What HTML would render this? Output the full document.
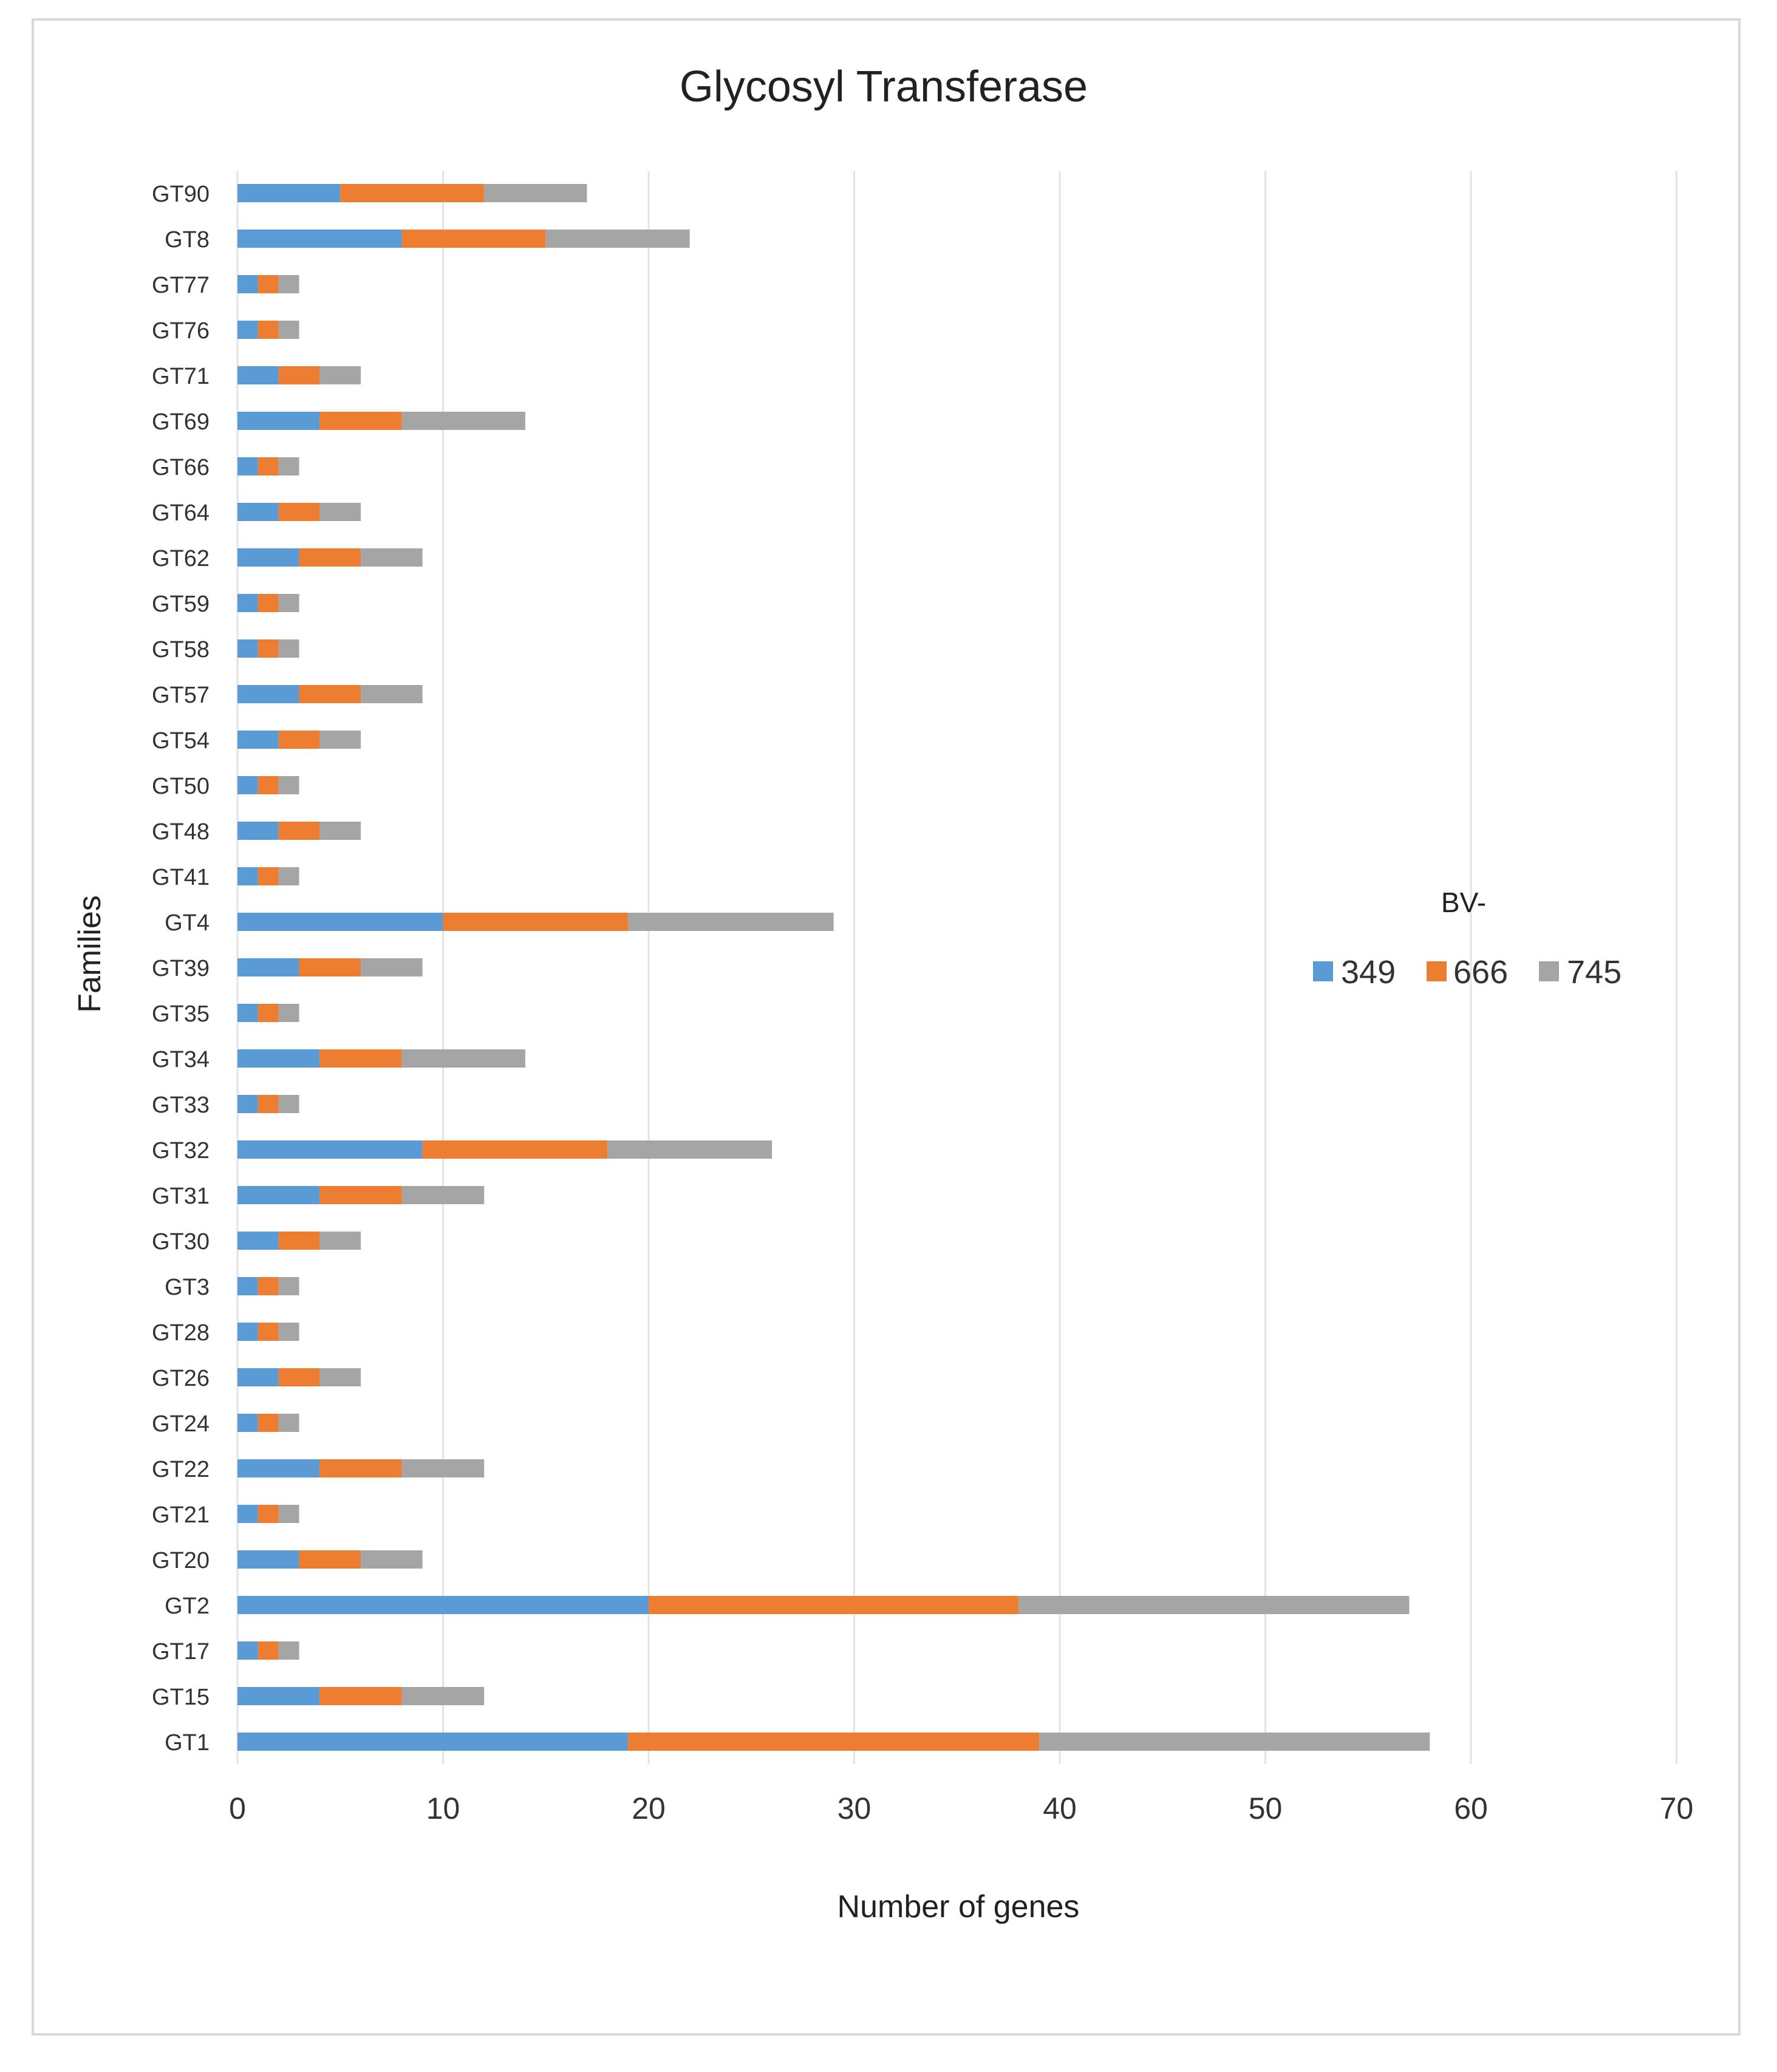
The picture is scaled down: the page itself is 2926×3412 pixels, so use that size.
<!DOCTYPE html>
<html><head><meta charset="utf-8"><style>
html,body{margin:0;padding:0;background:#fff;}
svg{display:block;font-family:"Liberation Sans",sans-serif;}
</style></head><body>
<svg id="chart" width="2926" height="3412" viewBox="0 0 2926 3412" xmlns="http://www.w3.org/2000/svg">
<rect x="54" y="32" width="2810" height="3318" fill="#fff" stroke="#d9d9d9" stroke-width="4"/>
<text x="1455" y="167" font-size="72" text-anchor="middle" fill="#222">Glycosyl Transferase</text>
<g id="grid"></g>
<g id="bars"></g>
<g id="ylabels"></g>
<g id="xlabels"></g>
<text x="1578" y="3157" font-size="52" text-anchor="middle" fill="#222">Number of genes</text>
<text x="0" y="0" font-size="52" text-anchor="middle" fill="#222" transform="translate(165,1571) rotate(-90)">Families</text>
<g>
<text x="2410" y="1502" font-size="46" text-anchor="middle" fill="#222">BV-</text>
<rect x="2162" y="1583" width="33" height="33" fill="#5b9bd5"/>
<text x="2208" y="1619" font-size="54" fill="#333">349</text>
<rect x="2349" y="1583" width="33" height="33" fill="#ed7d31"/>
<text x="2393" y="1619" font-size="54" fill="#333">666</text>
<rect x="2534" y="1583" width="33" height="33" fill="#a5a5a5"/>
<text x="2580" y="1619" font-size="54" fill="#333">745</text>
</g>
</svg>
<script>
const categories = ["GT90","GT8","GT77","GT76","GT71","GT69","GT66","GT64","GT62","GT59","GT58","GT57","GT54","GT50","GT48","GT41","GT4","GT39","GT35","GT34","GT33","GT32","GT31","GT30","GT3","GT28","GT26","GT24","GT22","GT21","GT20","GT2","GT17","GT15","GT1"];
const s349 = [5,8,1,1,2,4,1,2,3,1,1,3,2,1,2,1,10,3,1,4,1,9,4,2,1,1,2,1,4,1,3,20,1,4,19];
const s666 = [7,7,1,1,2,4,1,2,3,1,1,3,2,1,2,1,9,3,1,4,1,9,4,2,1,1,2,1,4,1,3,18,1,4,20];
const s745 = [5,7,1,1,2,6,1,2,3,1,1,3,2,1,2,1,10,3,1,6,1,8,4,2,1,1,2,1,4,1,3,19,1,4,19];
const xTicks = [0,10,20,30,40,50,60,70];
const seriesNames = ["349","666","745"];
const colors = ["#5b9bd5","#ed7d31","#a5a5a5"];

const NS = "http://www.w3.org/2000/svg";
const X0 = 391, UNIT = 33.85, Y0 = 318, STEP = 75.0, BH = 30;
function xs(v){ return X0 + v*UNIT; }
function ys(i){ return Y0 + i*STEP; }
function mk(tag, attrs, parent){ const e=document.createElementNS(NS,tag); for(const k in attrs) e.setAttribute(k,attrs[k]); parent.appendChild(e); return e; }

const grid = document.getElementById('grid');
const xl = document.getElementById('xlabels');
xTicks.forEach(t=>{
  const l = mk('line',{x1:xs(t),x2:xs(t),y1:282,y2:2905,stroke:'#e3e3e3','stroke-width':3},grid);
  
  
  const tx = mk('text',{x:xs(t),y:2995,'font-size':50,'text-anchor':'middle',fill:'#333'},xl);
  tx.textContent = t;
  
  
});

const bars = document.getElementById('bars');
const yl = document.getElementById('ylabels');
const series = [s349,s666,s745];
categories.forEach((c,i)=>{
  let acc = 0;
  series.forEach((s,k)=>{
    const r = mk('rect',{x:xs(acc),y:ys(i)-BH/2,width:xs(acc+s[i])-xs(acc),height:BH,fill:colors[k]},bars);
    
    
    acc += s[i];
  });
  const t = mk('text',{x:345,y:ys(i)+14,'font-size':38,'text-anchor':'end',fill:'#333'},yl);
  t.textContent = c;
  
  
});
</script>
</body></html>
